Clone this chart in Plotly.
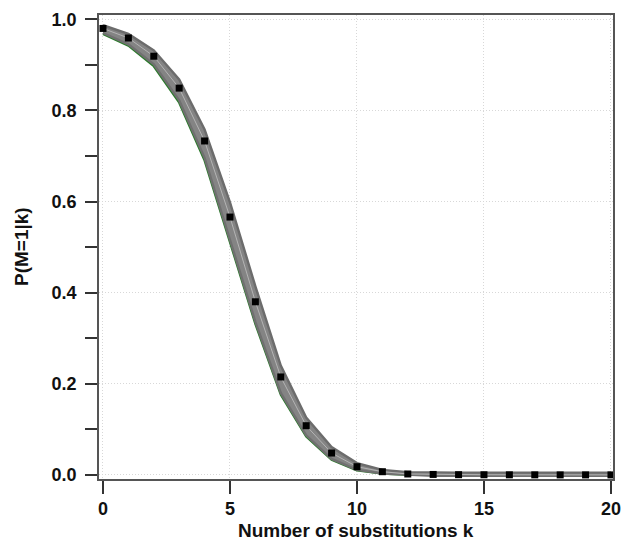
import plotly.graph_objects as go

# Data
k = list(range(0, 21))
mean_p = [0.980, 0.959, 0.919, 0.849, 0.733, 0.566, 0.380, 0.215, 0.108, 0.048,
          0.018, 0.007, 0.002, 0.001, 0.0005, 0.0003, 0.0002, 0.0001, 0.0, 0.0, 0.0]
upper_p = [0.987, 0.968, 0.932, 0.868, 0.758, 0.598, 0.414, 0.240, 0.126, 0.061,
           0.026, 0.011, 0.006, 0.005, 0.005, 0.005, 0.005, 0.005, 0.005, 0.005, 0.005]
lower_p = [0.970, 0.945, 0.901, 0.822, 0.696, 0.515, 0.336, 0.180, 0.087, 0.035,
           0.011, 0.003, 0.000, -0.002, -0.002, -0.002, -0.002, -0.002, -0.002, -0.002, -0.002]
model_p = [0.968, 0.942, 0.897, 0.817, 0.690, 0.509, 0.331, 0.176, 0.084, 0.033,
           0.010, 0.003, 0.000, 0.0, 0.0, 0.0, 0.0, 0.0, 0.0, 0.0, 0.0]

x_ticks = [0, 5, 10, 15, 20]
y_ticks = [0.0, 0.2, 0.4, 0.6, 0.8, 1.0]
y_tick_text = ["0.0", "0.2", "0.4", "0.6", "0.8", "1.0"]
y_minor = [0.1, 0.3, 0.5, 0.7, 0.9]

x_title = "Number of substitutions k"
y_title = "P(M=1|k)"

fig = go.Figure()

fig.add_trace(go.Scatter(x=k, y=model_p, mode="lines",
                         line=dict(color="#2b7a2b", width=2.2), showlegend=False, hoverinfo="skip"))
fig.add_trace(go.Scatter(x=k, y=lower_p, mode="lines",
                         line=dict(color="#707070", width=2.4), showlegend=False, hoverinfo="skip"))
fig.add_trace(go.Scatter(x=k, y=upper_p, mode="lines", fill="tonexty",
                         fillcolor="#848484",
                         line=dict(color="#6c6c6c", width=2.4), showlegend=False, hoverinfo="skip"))
fig.add_trace(go.Scatter(x=k, y=mean_p, mode="lines",
                         line=dict(color="#b4b4b4", width=1), showlegend=False, hoverinfo="skip"))
fig.add_trace(go.Scatter(x=k, y=mean_p, mode="markers",
                         marker=dict(symbol="square", size=7, color="black"),
                         showlegend=False))

font_family = "Liberation Sans, Arial, sans-serif"
tickfont = dict(family=font_family, size=18, color="#111", weight="bold")
titlefont = dict(family=font_family, size=19, color="#111", weight="bold")

fig.update_layout(
    width=622, height=545,
    margin=dict(l=99, r=9, t=15, b=66, autoexpand=False),
    paper_bgcolor="white", plot_bgcolor="white",
    xaxis=dict(
        range=[-0.157, 20.08], tickvals=x_ticks, ticktext=[str(v) for v in x_ticks],
        ticks="outside", ticklen=13, tickwidth=1.5, tickcolor="#333",
        showline=True, linecolor="#555", linewidth=1.5, mirror=True,
        showgrid=True, gridcolor="#d8d8d8", griddash="1px,2px", gridwidth=1,
        zeroline=False, tickfont=tickfont, automargin=False,
    ),
    yaxis=dict(
        range=[-0.009, 1.0095], tickvals=y_ticks, ticktext=y_tick_text,
        ticks="outside", ticklen=12, tickwidth=1.5, tickcolor="#333",
        minor=dict(tickvals=y_minor, ticks="outside", ticklen=12, tickwidth=1.5,
                   tickcolor="#333", showgrid=False),
        showline=True, linecolor="#555", linewidth=1.5, mirror=True,
        showgrid=True, gridcolor="#d8d8d8", griddash="1px,2px", gridwidth=1,
        zeroline=False, tickfont=tickfont, ticklabelstandoff=5, automargin=False,
    ),
    annotations=[
        dict(text=x_title, xref="paper", yref="paper", x=0.5, y=0, yshift=-51,
             xanchor="center", yanchor="middle", showarrow=False, font=titlefont),
        dict(text=y_title, xref="paper", yref="paper", x=0, y=0.5, xshift=-78,
             xanchor="center", yanchor="middle", textangle=-90, showarrow=False, font=titlefont),
    ],
)

fig.write_html(
    "out.html",
    config={"displayModeBar": False},
    post_script="document.body.style.margin='0';document.body.style.overflow='hidden';",
)
